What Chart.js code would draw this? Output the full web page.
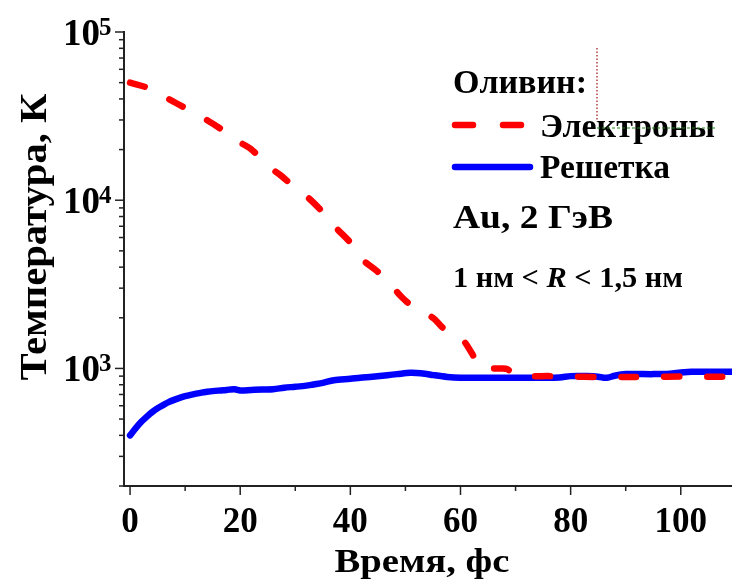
<!DOCTYPE html>
<html>
<head>
<meta charset="utf-8">
<script src="https://cdn.jsdelivr.net/npm/chart.js@4.4.1/dist/chart.umd.min.js"></script>
<style>
  html, body { margin: 0; padding: 0; background: #fff; }
  canvas { display: block; }
</style>
</head>
<body>
<canvas id="tempChart" width="732" height="581"></canvas>
<script>
// Электроны (red dashed), время в фс / температура в К
const electronTime = [0, 3.5, 7, 10, 14, 16.5, 19.5, 22, 25, 27.3, 30.3, 32.7, 35.5, 37.5, 40, 42, 44.8, 47, 49.4, 51.8, 55, 57, 60.3, 62, 63.6, 65, 67.6, 68.5, 70, 72, 76, 80, 85, 90, 95, 100, 105, 110];
const electronTemp = [50000, 46200, 40000, 35300, 29900, 26500, 22500, 20100, 16000, 14100, 11600, 10100, 8150, 6800, 5600, 4500, 3800, 3240, 2640, 2270, 2000, 1720, 1490, 1240, 1010, 1000, 1000, 990, 915, 900, 900, 895, 890, 890, 890, 895, 893, 890];

// Решетка (blue solid)
const latticeTime = [0, 1, 2, 3, 4, 5, 6, 7, 8, 9, 10, 11, 12, 13, 14, 15, 16, 17, 18, 19, 20, 22, 24, 26, 28, 30, 32, 33.3, 35, 37, 40, 41.8, 44, 46.7, 48.5, 50.9, 52, 53.5, 55.1, 57.6, 60, 65, 70, 75, 78, 80, 83, 85, 86, 87, 88, 90, 95, 98, 100, 102, 105, 110];
const latticeTemp = [400, 440, 480, 515, 550, 580, 605, 630, 650, 668, 684, 697, 708, 718, 726, 733, 738, 742, 748, 752, 740, 745, 750, 752, 768, 778, 790, 803, 820, 851, 868, 881, 893, 912, 925, 942, 940, 930, 912, 890, 881, 881, 881, 881, 884, 900, 900, 893, 880, 885, 905, 925, 925, 930, 945, 955, 955, 955];

const xMajorTicks = [0, 20, 40, 60, 80, 100];
const xMinorTicks = [10, 30, 50, 70, 90];
const yDecades = [100, 1000, 10000, 100000];
const yLabelExponents = [3, 4, 5];

const serif = "'Liberation Serif', 'DejaVu Serif', serif";
const axisColor = '#222';

// draw text stretched horizontally to a given width (the original's font runs wider)
function wideText(ctx, text, x, y, font, width, align) {
  ctx.save();
  ctx.font = font;
  ctx.textAlign = 'left';
  const w = ctx.measureText(text).width;
  const sx = width / w;
  const left = align === 'center' ? x - width / 2 : x;
  ctx.translate(left, y);
  ctx.scale(sx, 1);
  ctx.fillText(text, 0, 0);
  ctx.restore();
}

const overlay = {
  id: 'overlay',
  afterDraw(chart) {
    const { ctx, chartArea: a, scales: { x, y } } = chart;
    ctx.save();

    // tick marks
    ctx.strokeStyle = axisColor;
    ctx.lineWidth = 1.5;
    const tick = (x1, y1, x2, y2) => { ctx.beginPath(); ctx.moveTo(x1, y1); ctx.lineTo(x2, y2); ctx.stroke(); };
    xMajorTicks.forEach(v => { const px = x.getPixelForValue(v); tick(px, a.bottom, px, a.bottom + 9); });
    xMinorTicks.forEach(v => { const px = x.getPixelForValue(v); tick(px, a.bottom, px, a.bottom + 5); });
    yDecades.forEach(d => {
      for (let m = 1; m <= 9; m++) {
        const v = d * m;
        if (v < y.min || v > y.max) continue;
        const py = y.getPixelForValue(v);
        tick(a.left, py, a.left - (m === 1 ? 9 : 5), py);
      }
    });

    // x tick labels
    ctx.fillStyle = '#000';
    ctx.font = `bold 35px ${serif}`;
    ctx.textAlign = 'center';
    ctx.textBaseline = 'alphabetic';
    xMajorTicks.forEach(v => ctx.fillText(String(v), x.getPixelForValue(v), a.bottom + 46));

    // y tick labels with superscript exponents
    yLabelExponents.forEach(e => {
      const py = y.getPixelForValue(Math.pow(10, e));
      ctx.font = `bold 37px ${serif}`;
      ctx.textAlign = 'right';
      ctx.fillText('10', a.left - 24, py + 13);
      ctx.font = `bold 25px ${serif}`;
      ctx.textAlign = 'left';
      ctx.fillText(String(e), a.left - 25, py + 3);
    });

    // axis titles
    wideText(ctx, 'Время, фс', 422, 572, `bold 34px ${serif}`, 175, 'center');
    ctx.save();
    ctx.translate(46, 237);
    ctx.rotate(-Math.PI / 2);
    wideText(ctx, 'Температура, К', 0, 0, `bold 37px ${serif}`, 287, 'center');
    ctx.restore();

    // legend block
    const lf = `bold 33px ${serif}`;
    wideText(ctx, 'Оливин:', 453, 93, lf, 134);
    wideText(ctx, 'Электроны', 540, 137, lf, 175);
    wideText(ctx, 'Решетка', 540, 178, lf, 130);
    wideText(ctx, 'Au, 2 ГэВ', 453, 228, lf, 160);

    ctx.save();
    ctx.lineCap = 'round';
    ctx.lineWidth = 6.5;
    ctx.strokeStyle = '#ff0000';
    ctx.setLineDash([18, 30]);
    tick(455, 125, 521, 125);
    ctx.setLineDash([]);
    ctx.strokeStyle = '#0000ff';
    tick(455, 167, 530, 167);
    ctx.restore();

    // 1 нм < R < 1,5 нм
    const parts = [['1 нм < ', 'bold'], ['R', 'italic bold'], [' < 1,5 нм', 'bold']];
    let total = 0;
    parts.forEach(([t, st]) => { ctx.font = `${st} 29px ${serif}`; total += ctx.measureText(t).width; });
    const k = 230 / total;
    let cx = 453;
    parts.forEach(([t, st]) => {
      const f = `${st} 29px ${serif}`;
      ctx.font = f;
      const w = ctx.measureText(t).width * k;
      wideText(ctx, t, cx, 287, f, w);
      cx += w;
    });

    // stray marks from the original figure (drawn over the legend text)
    ctx.strokeStyle = '#a01010';
    ctx.lineWidth = 1.2;
    ctx.setLineDash([1.5, 2]);
    tick(597, 48, 597, 122);
    ctx.strokeStyle = '#1a8a1a';
    ctx.lineWidth = 1;
    ctx.setLineDash([3, 2]);
    tick(597, 128, 715, 128);

    ctx.restore();
  }
};

new Chart(document.getElementById('tempChart'), {
  type: 'line',
  data: {
    datasets: [
      {
        label: 'Электроны',
        data: electronTime.map((t, i) => ({ x: t, y: electronTemp[i] })),
        borderColor: '#ff0000',
        borderWidth: 6.5,
        borderDash: [15, 28],
        borderCapStyle: 'round',
        pointRadius: 0,
        tension: 0.3,
        fill: false
      },
      {
        label: 'Решетка',
        data: latticeTime.map((t, i) => ({ x: t, y: latticeTemp[i] })),
        borderColor: '#0000ff',
        borderWidth: 6.5,
        borderCapStyle: 'round',
        borderJoinStyle: 'round',
        pointRadius: 0,
        tension: 0.3,
        fill: false
      }
    ]
  },
  options: {
    responsive: false,
    animation: false,
    layout: { padding: { left: 124, top: 32, right: 0, bottom: 95 } },
    plugins: { legend: { display: false }, tooltip: { enabled: false } },
    scales: {
      x: {
        type: 'linear',
        min: -1.1,
        max: 109.3,
        ticks: { display: false },
        grid: { display: false, drawTicks: false },
        border: { display: true, color: axisColor, width: 2 }
      },
      y: {
        type: 'logarithmic',
        min: 200,
        max: 100000,
        ticks: { display: false },
        grid: { display: false, drawTicks: false },
        border: { display: true, color: axisColor, width: 2 }
      }
    }
  },
  plugins: [overlay]
});
</script>
</body>
</html>
